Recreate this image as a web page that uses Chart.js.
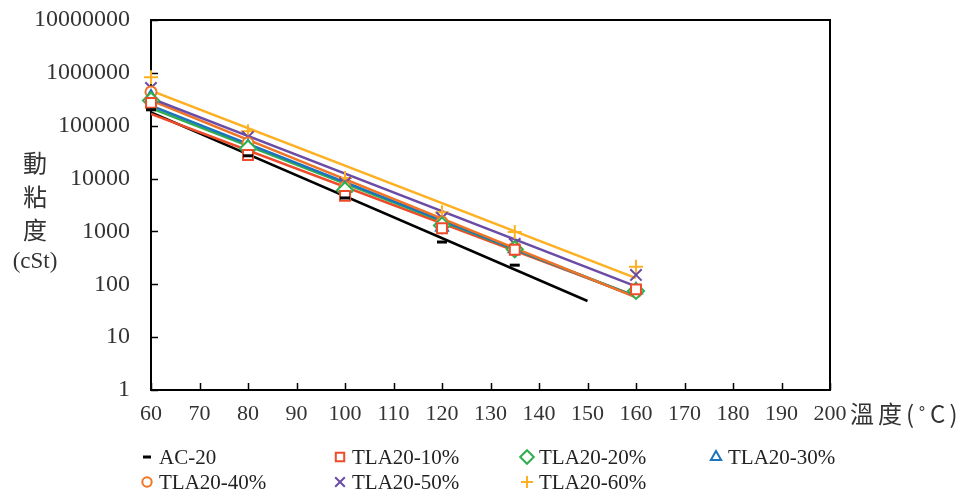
<!DOCTYPE html>
<html><head><meta charset="utf-8">
<script src="https://cdn.jsdelivr.net/npm/chart.js@4/dist/chart.umd.min.js"></script>
<style>html,body{margin:0;padding:0;background:#fff;} #wrap{position:relative;width:969px;height:492px;}</style>
</head><body><div id="wrap"><canvas id="c" width="969" height="492"></canvas></div>
<script>
// ---- data ----
const temps = [60, 80, 100, 120, 135, 160];
const tempsAC = [60, 80, 100, 120, 135];
const seriesNames = ['AC-20', 'TLA20-10%', 'TLA20-20%', 'TLA20-30%', 'TLA20-40%', 'TLA20-50%', 'TLA20-60%'];
const ac20   = [200000, 27000, 4300, 630, 230];
const tla10  = [270000, 28000, 4700, 1150, 450, 80];
const tla20  = [300000, 37000, 6000, 1300, 460, 75];
const tla30  = [350000, 40000, 6500, 1200, 470, 78];
const tla40  = [435000, 47000, 7000, 1500, 490, 72];
const tla50  = [520000, 61000, 8200, 1800, 580, 150];
const tla60  = [830000, 79000, 10200, 2300, 980, 215];
const trendEnd = [150, 160, 160, 160, 160, 160, 160];
const yTickValues = [1, 10, 100, 1000, 10000, 100000, 1000000, 10000000];
const xTickValues = [60, 70, 80, 90, 100, 110, 120, 130, 140, 150, 160, 170, 180, 190, 200];
const yTitleLines = ['動', '粘', '度', '(cSt)'];
const xTitle = '溫度(˚C)';

// ---- styles ----
const colors = ['#000000', '#EE4B2B', '#2EAE4E', '#1C73BE', '#F07426', '#6A4BA6', '#FDB022'];
const styles = ['line', 'rect', 'rectRot', 'triangle', 'circle', 'crossRot', 'cross'];
const radii = [5, 7, 8, 7, 5.5, 8, 7];
const bw = [3, 2, 2, 2, 2, 2, 2];

const allValues = [ac20, tla10, tla20, tla30, tla40, tla50, tla60];
const allTemps = [tempsAC, temps, temps, temps, temps, temps, temps];

function expFit(xs, ys) {
  const ly = ys.map(v => Math.log10(v));
  const n = xs.length;
  const mx = xs.reduce((a, b) => a + b, 0) / n;
  const my = ly.reduce((a, b) => a + b, 0) / n;
  let sxy = 0, sxx = 0;
  for (let i = 0; i < n; i++) { sxy += (xs[i] - mx) * (ly[i] - my); sxx += (xs[i] - mx) ** 2; }
  const b = sxy / sxx, a = my - b * mx;
  return x => Math.pow(10, a + b * x);
}

const datasets = [];
allValues.forEach((vals, i) => {
  const f = expFit(allTemps[i], vals);
  datasets.push({
    label: seriesNames[i] + ' trend',
    data: [{x: allTemps[i][0], y: f(allTemps[i][0])}, {x: trendEnd[i], y: f(trendEnd[i])}],
    showLine: true, borderColor: colors[i], borderWidth: 2.5, pointRadius: 0, order: 10 - i
  });
});
allValues.forEach((vals, i) => {
  datasets.push({
    label: seriesNames[i],
    data: vals.map((v, j) => ({x: allTemps[i][j], y: v})),
    showLine: false, pointStyle: styles[i], pointRadius: radii[i], pointHoverRadius: radii[i], clip: false,
    borderColor: colors[i], backgroundColor: '#ffffff', pointBorderWidth: bw[i], borderWidth: bw[i], order: 1
  });
});

const decor = {
  id: 'decor',
  beforeDatasetsDraw(chart) {
    const ctx = chart.ctx, a = chart.chartArea;
    const xs = chart.scales.x, ys = chart.scales.y;
    ctx.save();
    ctx.strokeStyle = '#000'; ctx.lineWidth = 2;
    ctx.strokeRect(a.left, a.top, a.right - a.left, a.bottom - a.top);
    ctx.lineWidth = 1.5;
    ctx.beginPath();
    xTickValues.forEach(v => { const p = Math.round(xs.getPixelForValue(v)) + 0.5; ctx.moveTo(p, a.bottom); ctx.lineTo(p, a.bottom - 7); });
    yTickValues.forEach(v => { const p = Math.round(ys.getPixelForValue(v)) + 0.5; ctx.moveTo(a.left, p); ctx.lineTo(a.left + 7, p); });
    ctx.stroke();
    ctx.restore();
  },
  afterDraw(chart) {
    const ctx = chart.ctx;
    ctx.save();
    // y title
    ctx.fillStyle = '#333'; ctx.textAlign = 'center'; ctx.textBaseline = 'middle';
    const ty = [163, 197, 230, 262];
    yTitleLines.forEach((t, i) => {
      ctx.font = i < 3 ? '24px "Noto Sans CJK TC"' : '23px "Liberation Serif"';
      ctx.fillText(t, 35, ty[i]);
    });
    // x title
    ctx.textAlign = 'left';
    ctx.font = '24px "Noto Sans CJK TC"';
    ctx.letterSpacing = '4px';
    ctx.fillText(xTitle, 850, 414);
    ctx.letterSpacing = '0px';
    // legend
    const lx = [147, 340, 527, 716, 147, 340, 527];
    const lyy = [457, 457, 457, 457, 482, 482, 482];
    ctx.font = '21px "Liberation Serif"'; ctx.textBaseline = 'middle';
    seriesNames.forEach((n, i) => {
      ctx.strokeStyle = colors[i]; ctx.fillStyle = '#fff'; ctx.lineWidth = bw[i];
      Chart.helpers.drawPoint(ctx, {pointStyle: styles[i], radius: i === 0 ? 4 : radii[i] * 0.85, borderWidth: bw[i], rotation: 0}, lx[i], lyy[i]);
      ctx.fillStyle = '#222';
      ctx.fillText(n, lx[i] + 12, lyy[i] + 1);
    });
    ctx.restore();
  }
};

new Chart(document.getElementById('c'), {
  type: 'scatter',
  data: {datasets},
  options: {
    responsive: false, animation: false, devicePixelRatio: 1,
    layout: {padding: {top: 20, right: 139, bottom: 72, left: 0}},
    plugins: {legend: {display: false}, tooltip: {enabled: false}},
    scales: {
      x: {
        type: 'linear', min: 60, max: 200,
        afterBuildTicks: s => { s.ticks = xTickValues.map(v => ({value: v})); },
        afterFit: s => { s.height = 30; s.paddingLeft = 0; s.paddingRight = 0; },
        ticks: {font: {family: 'Liberation Serif', size: 22}, color: '#333', padding: 11, maxRotation: 0, autoSkip: false},
        grid: {display: false, drawTicks: false}, border: {display: false}
      },
      y: {
        type: 'logarithmic', min: 1, max: 10000000,
        afterBuildTicks: s => { s.ticks = yTickValues.map(v => ({value: v})); },
        afterFit: s => { s.width = 151; s.paddingTop = 0; s.paddingBottom = 0; },
        ticks: {font: {family: 'Liberation Serif', size: 24}, color: '#333', padding: 21, autoSkip: false,
          callback: v => String(v)},
        grid: {display: false, drawTicks: false}, border: {display: false}
      }
    }
  },
  plugins: [decor]
});
</script></body></html>
